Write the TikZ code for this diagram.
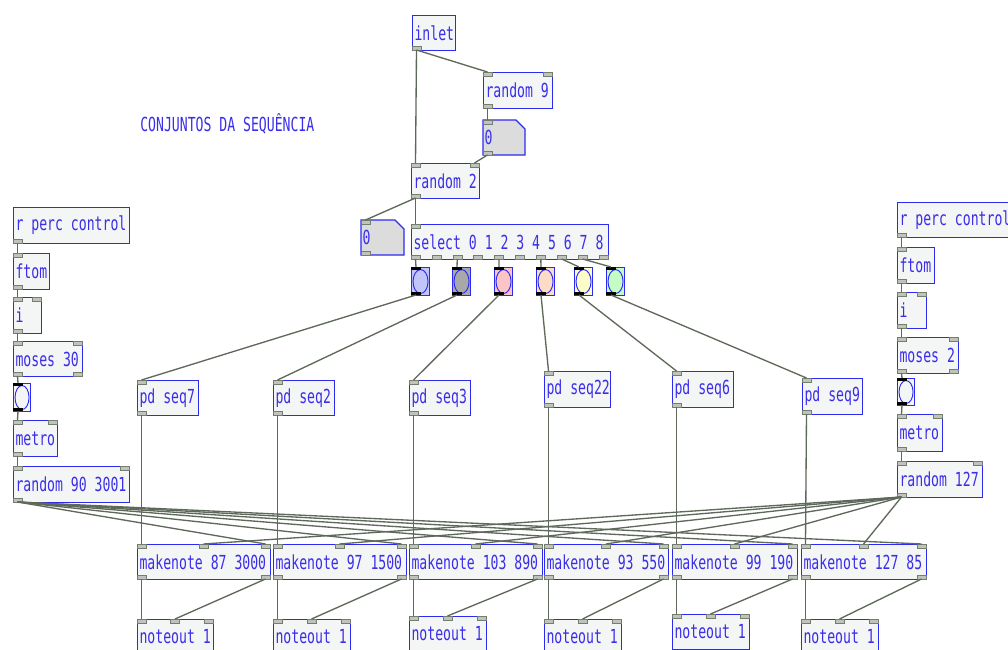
\documentclass[tikz,border=0pt]{standalone}
\usepackage{fontspec}
\newfontfamily\pdfont[FakeStretch=0.68]{DejaVu Sans Mono}
\usetikzlibrary{calc}
\definecolor{PdBlue}{HTML}{2B2BF0}
\definecolor{PdText}{HTML}{3A2EEA}
\definecolor{PdFill}{HTML}{F4F5F5}
\definecolor{PdAtom}{HTML}{DCDCDC}
\definecolor{PdWire}{HTML}{5E695B}
\definecolor{PdPort}{HTML}{BFC3BC}
\definecolor{PdPortEdge}{HTML}{737D70}
\definecolor{BangLilac}{HTML}{C2C4FC}
\definecolor{BangGrey}{HTML}{A8A8A8}
\definecolor{BangPink}{HTML}{FCC4C4}
\definecolor{BangPeach}{HTML}{FCDCC4}
\definecolor{BangYellow}{HTML}{FCFCC8}
\definecolor{BangGreen}{HTML}{C4FCC4}
\definecolor{BangWhite}{HTML}{F4F5F5}

\tikzset{
  pdfnt/.style={font=\pdfont\fontsize{14.5}{16}\selectfont, text=PdText},
  pdbox/.style={pdfnt, draw=PdBlue, fill=PdFill, line width=0.8pt, anchor=north west,
    inner xsep=1.5pt, inner ysep=0pt},
  pdport/.style={fill=PdPort, draw=PdPortEdge, line width=0.4pt},
  wire/.style={draw=PdWire, line width=1pt},
}

% ports: name, x1, x2, y, count, prefix, height
\newcommand\pdports[7]{%
  \ifnum#5>0
  \foreach \k in {1,...,#5}{%
    \pgfmathsetmacro\px{#2+4.5+(#3-#2-9)*(\k-1)/max(#5-1,1)}%
    \pgfmathsetmacro\py{#4+(#7)}%
    \coordinate (#1-#6\k) at (\px,#4);
    \filldraw[pdport] ({\px-4.5},#4) rectangle ({\px+4.5},\py);
  }\fi}

% object box: name, x1, y1, x2, y2, text, inlets, outlets
\newcommand\pdobj[8]{%
  \pgfmathsetmacro\bw{(#4-#2)*0.75}%
  \pgfmathsetmacro\bh{(#5-#3)*0.75}%
  \pgfmathsetmacro\tw{(#4-#2)*0.75-3}%
  \node[pdbox, minimum width=\bw pt, minimum height=\bh pt] (#1) at (#2,#3) {\makebox[\tw pt][l]{#6}};
  \pdports{#1}{#2}{#4}{#3}{#7}{i}{4}
  \pdports{#1}{#2}{#4}{#5}{#8}{o}{-4}}

% number box: name, x1, y1, x2, y2
\newcommand\pdatom[5]{%
  \filldraw[fill=PdAtom, draw=PdBlue, line width=0.8pt]
    (#2,#3) -- ({#4-9},#3) -- (#4,{#3+9}) -- (#4,#5) -- (#2,#5) -- cycle;
  \node[pdfnt, anchor=west, inner sep=1pt] (#1) at (#2,{(#3+#5)/2}) {0};
  \pdports{#1}{#2}{#4}{#3}{1}{i}{4}
  \pdports{#1}{#2}{#4}{#5}{1}{o}{-4}}

% bang: name, x1, y1, x2, y2, colour
\newcommand\pdbang[6]{%
  \pgfmathsetmacro\bw{(#4-#2)*0.75}%
  \pgfmathsetmacro\bh{(#5-#3)*0.75}%
  \node[draw=PdBlue, fill=#6, line width=0.8pt, anchor=north west, inner sep=0pt,
    minimum width=\bw pt, minimum height=\bh pt] (#1) at (#2,#3) {};
  \draw[PdBlue, line width=0.7pt, fill=#6] (#1.center) ellipse [x radius={(#4-#2)/2-1.5}, y radius={(#5-#3)/2-2}];
  \fill[black] (#2,#3) rectangle ({#2+10},{#3+3});
  \fill[black] (#2,{#5-3}) rectangle ({#2+10},#5);
  \coordinate (#1-i1) at ({#2+5},#3);
  \coordinate (#1-o1) at ({#2+5},#5);}

\begin{document}
\begin{tikzpicture}[x=0.75pt, y=-0.75pt]
  \path[fill=white, use as bounding box] (0,0) rectangle (1008,650);

  % comment
  \node[pdfnt, anchor=west, inner sep=0pt] (title) at (140,124) {CONJUNTOS DA SEQUÊNCIA};

  % top chain
  \pdobj{inlet}{412}{15}{455}{50}{inlet}{0}{1}
  \pdobj{rndnine}{483}{72}{552}{108}{random 9}{2}{1}
  \pdatom{numA}{483}{120}{525}{155}
  \pdobj{rndtwo}{411}{163}{479}{198}{random 2}{2}{1}
  \pdatom{numB}{361}{220}{404}{255}
  \pdobj{sel}{411}{224}{608}{259}{select 0 1 2 3 4 5 6 7 8}{1}{10}

  % bangs
  \pdbang{bA}{411}{267}{429}{295}{BangLilac}
  \pdbang{bB}{452}{267}{470}{295}{BangGrey}
  \pdbang{bC}{494}{267}{512}{295}{BangPink}
  \pdbang{bD}{536}{267}{554}{295}{BangPeach}
  \pdbang{bE}{574}{267}{592}{295}{BangYellow}
  \pdbang{bF}{606}{267}{624}{295}{BangGreen}

  % sequences
  \pdobj{seqA}{137}{380}{198}{415}{pd seq7}{1}{1}
  \pdobj{seqB}{273}{380}{334}{415}{pd seq2}{1}{1}
  \pdobj{seqC}{409}{380}{470}{415}{pd seq3}{1}{1}
  \pdobj{seqD}{544}{371}{610}{407}{pd seq22}{1}{1}
  \pdobj{seqE}{672}{371}{733}{407}{pd seq6}{1}{1}
  \pdobj{seqF}{802}{378}{862}{414}{pd seq9}{1}{1}

  % makenote row
  \pdobj{mkA}{137}{544}{270}{579}{makenote 87 3000}{3}{2}
  \pdobj{mkB}{273}{544}{406}{579}{makenote 97 1500}{3}{2}
  \pdobj{mkC}{409}{544}{542}{579}{makenote 103 890}{3}{2}
  \pdobj{mkD}{544}{544}{668}{579}{makenote 93 550}{3}{2}
  \pdobj{mkE}{672}{544}{797}{579}{makenote 99 190}{3}{2}
  \pdobj{mkF}{801}{544}{926}{579}{makenote 127 85}{3}{2}

  % noteout row
  \pdobj{noA}{137}{619}{213}{654}{noteout 1}{3}{0}
  \pdobj{noB}{273}{619}{350}{654}{noteout 1}{3}{0}
  \pdobj{noC}{409}{616}{486}{651}{noteout 1}{3}{0}
  \pdobj{noD}{544}{619}{621}{654}{noteout 1}{3}{0}
  \pdobj{noE}{672}{614}{749}{649}{noteout 1}{3}{0}
  \pdobj{noF}{801}{619}{878}{654}{noteout 1}{3}{0}

  % left control column
  \pdobj{lrcv}{13}{207}{129}{243}{r perc control}{0}{1}
  \pdobj{lftom}{13}{253}{49}{289}{ftom}{1}{1}
  \pdobj{lint}{13}{297}{41}{333}{i}{2}{1}
  \pdobj{lmoses}{13}{341}{82}{376}{moses 30}{2}{2}
  \pdbang{lbang}{13}{383}{30}{411}{BangWhite}
  \pdobj{lmetro}{13}{420}{57}{456}{metro}{2}{1}
  \pdobj{lrnd}{13}{466}{129}{502}{random 90 3001}{2}{1}

  % right control column
  \pdobj{rrcv}{897}{202}{1013}{237}{r perc control}{0}{1}
  \pdobj{rftom}{897}{247}{934}{283}{ftom}{1}{1}
  \pdobj{rint}{897}{292}{926}{328}{i}{2}{1}
  \pdobj{rmoses}{897}{337}{958}{373}{moses 2}{2}{2}
  \pdbang{rbang}{897}{378}{914}{405}{BangWhite}
  \pdobj{rmetro}{897}{414}{942}{451}{metro}{2}{1}
  \pdobj{rrnd}{897}{461}{982}{497}{random 127}{2}{1}

  % wires, top chain
  \draw[wire] (inlet-o1) -- (rndnine-i1);
  \draw[wire] (inlet-o1) -- (rndtwo-i1);
  \draw[wire] (rndnine-o1) -- (numA-i1);
  \draw[wire] (numA-o1) -- (rndtwo-i2);
  \draw[wire] (rndtwo-o1) -- (numB-i1);
  \draw[wire] (rndtwo-o1) -- (sel-i1);
  \foreach \o/\b in {1/bA,3/bB,5/bC,7/bD,8/bE,9/bF}
    \draw[wire] (sel-o\o) -- (\b-i1);
  \foreach \b/\s in {bA/seqA,bB/seqB,bC/seqC,bD/seqD,bE/seqE,bF/seqF}
    \draw[wire] (\b-o1) -- (\s-i1);
  \foreach \s/\m in {seqA/mkA,seqB/mkB,seqC/mkC,seqD/mkD,seqE/mkE,seqF/mkF}
    \draw[wire] (\s-o1) -- (\m-i1);
  \foreach \m/\n in {mkA/noA,mkB/noB,mkC/noC,mkD/noD,mkE/noE,mkF/noF}{
    \draw[wire] (\m-o1) -- (\n-i1);
    \draw[wire] (\m-o2) -- (\n-i2);
  }

  % wires, control columns
  \foreach \c in {l,r}{
    \draw[wire] (\c rcv-o1) -- (\c ftom-i1);
    \draw[wire] (\c ftom-o1) -- (\c int-i1);
    \draw[wire] (\c int-o1) -- (\c moses-i1);
    \draw[wire] (\c moses-o1) -- (\c bang-i1);
    \draw[wire] (\c bang-o1) -- (\c metro-i1);
    \draw[wire] (\c metro-o1) -- (\c rnd-i1);
  }
  \foreach \m in {mkA,mkB,mkC,mkD,mkE,mkF}{
    \draw[wire] (lrnd-o1) -- (\m-i3);
    \draw[wire] (rrnd-o1) -- (\m-i2);
  }
\end{tikzpicture}
\end{document}
